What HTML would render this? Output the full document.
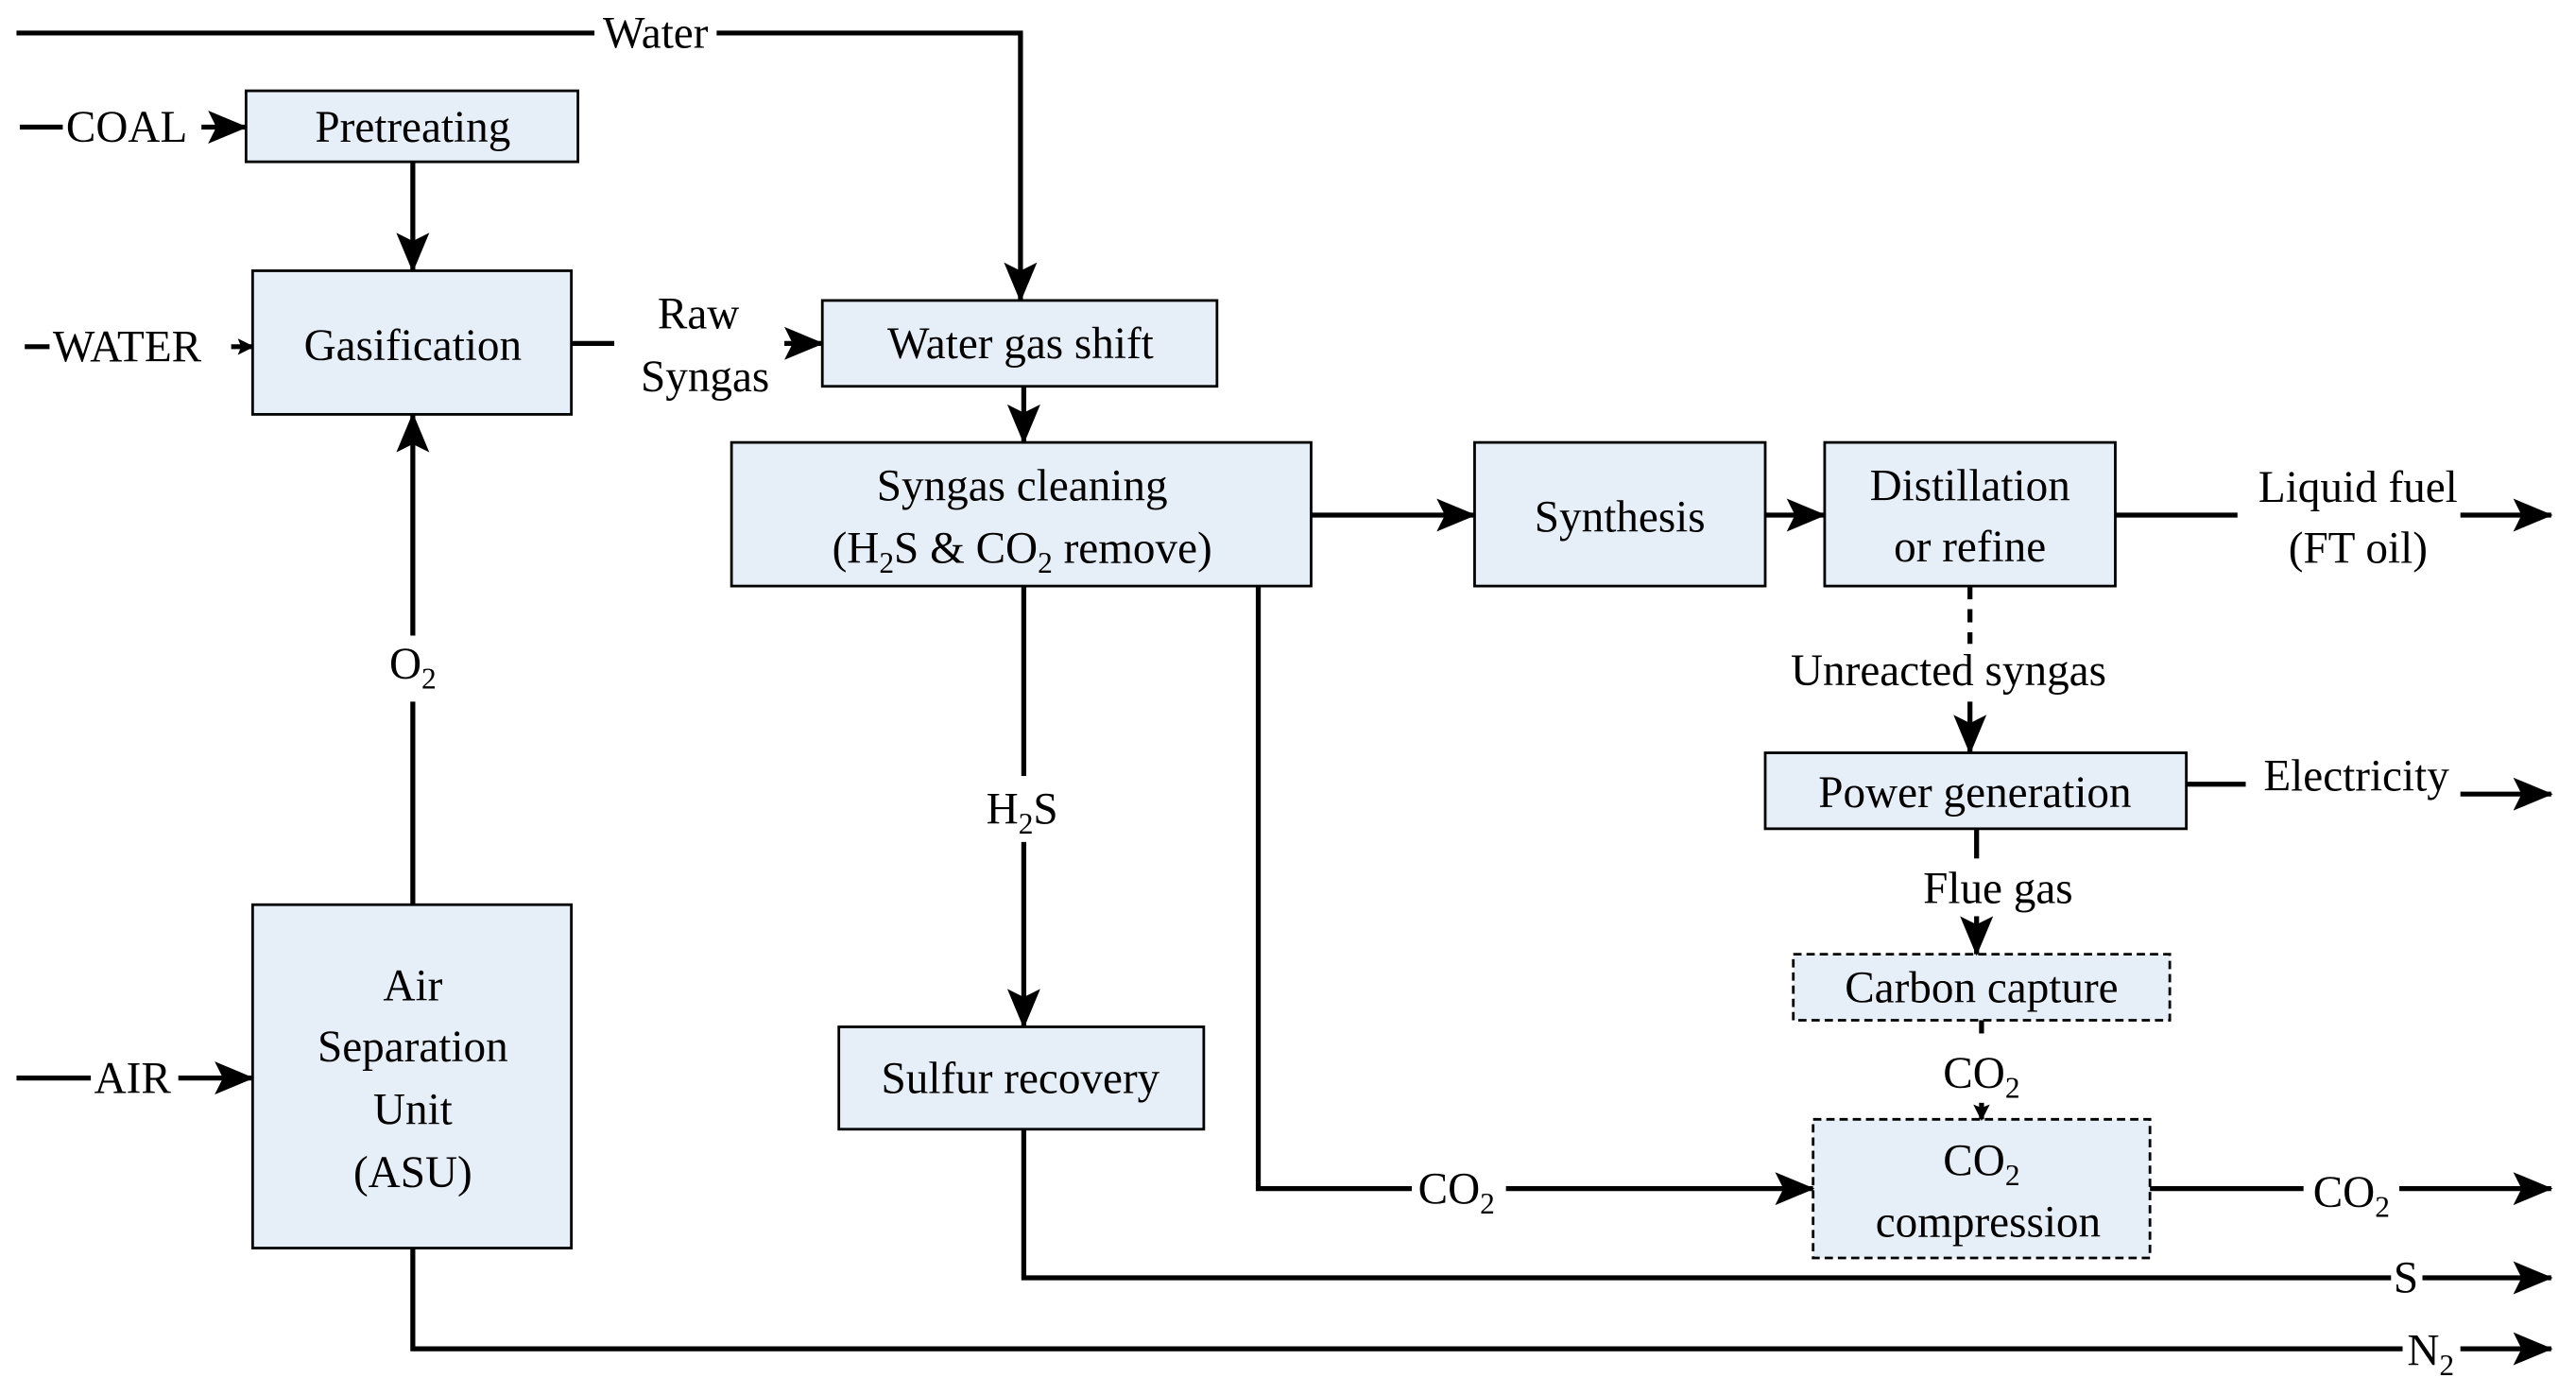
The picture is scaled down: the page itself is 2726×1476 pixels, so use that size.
<!DOCTYPE html>
<html><head><meta charset="utf-8"><style>
html,body{margin:0;padding:0;background:#fff;}
svg{display:block;font-family:"Liberation Serif","Times New Roman","DejaVu Serif",serif;}
text{font-family:"Liberation Serif","Times New Roman","DejaVu Serif",serif;font-size:27px;fill:#000;}
.b{fill:#e6eef8;stroke:#000;stroke-width:1.6;}
.d{fill:#e6eef8;stroke:#000;stroke-width:1.6;stroke-dasharray:5,3;}
.l{stroke:#000;stroke-width:3;fill:none;}
.dl{stroke:#000;stroke-width:3;fill:none;stroke-dasharray:8,6;}
</style></head><body>
<svg width="2726" height="1476" viewBox="0 0 1560 845" preserveAspectRatio="none" xmlns="http://www.w3.org/2000/svg" font-family="Liberation Serif, serif">
<defs><marker id="a" markerWidth="10" markerHeight="10" refX="9" refY="5" orient="auto" markerUnits="userSpaceOnUse" viewBox="0 0 10 10"><path d="M0,0 L10,5 L0,10 L2,5 z" fill="#000"/></marker>
<marker id="A" markerWidth="24" markerHeight="20" refX="23" refY="10" orient="auto" markerUnits="userSpaceOnUse" viewBox="0 0 24 20"><path d="M0,0 L24,10 L0,20 L5,10 z" fill="#000"/></marker></defs>

<path class="l" d="M10,20 H360 M434,20 H618 V182" marker-end="url(#A)"/>
<text x="397" y="29" text-anchor="middle">Water</text>

<rect class="b" x="149" y="55" width="201" height="43"/>
<text x="250" y="86" text-anchor="middle">Pretreating</text>
<rect class="b" x="153" y="164" width="193" height="87"/>
<text x="250" y="218" text-anchor="middle">Gasification</text>
<rect class="b" x="498" y="182" width="239" height="52"/>
<text x="618" y="217" text-anchor="middle">Water gas shift</text>
<rect class="b" x="443" y="268" width="351" height="87"/>
<text x="619" y="303" text-anchor="middle">Syngas cleaning</text>
<text x="619" y="341" text-anchor="middle">(H<tspan font-size="18" dy="6">2</tspan><tspan dy="-6">S &amp; CO</tspan><tspan font-size="18" dy="6">2</tspan><tspan dy="-6">  remove)</tspan></text>
<rect class="b" x="893" y="268" width="176" height="87"/>
<text x="981" y="322" text-anchor="middle">Synthesis</text>
<rect class="b" x="1105" y="268" width="176" height="87"/>
<text x="1193" y="303" text-anchor="middle">Distillation</text>
<text x="1193" y="340" text-anchor="middle">or refine</text>
<rect class="b" x="1069" y="456" width="255" height="46"/>
<text x="1196" y="489" text-anchor="middle">Power generation</text>
<rect class="d" x="1086" y="578" width="228" height="40"/>
<text x="1200" y="607" text-anchor="middle">Carbon capture</text>
<rect class="d" x="1098" y="678" width="204" height="84"/>
<text x="1200" y="712" text-anchor="middle">CO<tspan font-size="18" dy="6">2</tspan></text>
<text x="1204" y="749" text-anchor="middle">compression</text>
<rect class="b" x="508" y="622" width="221" height="62"/>
<text x="618" y="662" text-anchor="middle">Sulfur recovery</text>
<rect class="b" x="153" y="548" width="193" height="208"/>
<text x="250" y="606" text-anchor="middle">Air</text>
<text x="250" y="643" text-anchor="middle">Separation</text>
<text x="250" y="681" text-anchor="middle">Unit</text>
<text x="250" y="719" text-anchor="middle">(ASU)</text>

<path class="l" d="M12,77 H38"/>
<text x="40" y="86">COAL</text>
<path class="l" d="M122,77 H149" marker-end="url(#A)"/>
<path class="l" d="M15,210 H30"/>
<text x="32" y="219">WATER</text>
<path class="l" d="M140,210 H153" marker-end="url(#a)"/>
<path class="l" d="M10,653 H55"/>
<text x="57" y="662">AIR</text>
<path class="l" d="M108,653 H153" marker-end="url(#A)"/>

<path class="l" d="M250,98 V164" marker-end="url(#A)"/>
<path class="l" d="M346,208 H372"/>
<text x="423" y="199" text-anchor="middle">Raw</text>
<text x="427" y="237" text-anchor="middle">Syngas</text>
<path class="l" d="M475,208 H498" marker-end="url(#A)"/>
<path class="l" d="M620,234 V268" marker-end="url(#A)"/>
<path class="l" d="M794,312 H893" marker-end="url(#A)"/>
<path class="l" d="M1069,312 H1105" marker-end="url(#A)"/>

<path class="l" d="M1281,312 H1355"/>
<text x="1428" y="304" text-anchor="middle">Liquid fuel</text>
<text x="1428" y="341" text-anchor="middle">(FT oil)</text>
<path class="l" d="M1490,312 H1545" marker-end="url(#A)"/>

<path class="dl" d="M1193,355 V390"/>
<text x="1180" y="415" text-anchor="middle">Unreacted syngas</text>
<path class="l" d="M1193,425 V456" marker-end="url(#A)"/>

<path class="l" d="M1324,475 H1360"/>
<text x="1427" y="479" text-anchor="middle">Electricity</text>
<path class="l" d="M1490,481 H1545" marker-end="url(#A)"/>

<path class="l" d="M1197,502 V520"/>
<text x="1210" y="547" text-anchor="middle">Flue gas</text>
<path class="l" d="M1197,555 V578" marker-end="url(#A)"/>
<path class="dl" d="M1200,618 V632"/>
<text x="1200" y="659" text-anchor="middle">CO<tspan font-size="18" dy="6">2</tspan></text>
<path class="l" d="M1200,668 V678" marker-end="url(#a)"/>

<path class="l" d="M762,355 V720 H855"/>
<text x="882" y="729" text-anchor="middle">CO<tspan font-size="18" dy="6">2</tspan></text>
<path class="l" d="M912,720 H1098" marker-end="url(#A)"/>
<path class="l" d="M1302,720 H1395"/>
<text x="1424" y="731" text-anchor="middle">CO<tspan font-size="18" dy="6">2</tspan></text>
<path class="l" d="M1453,720 H1545" marker-end="url(#A)"/>

<path class="l" d="M620,355 V470"/>
<text x="619" y="499" text-anchor="middle">H<tspan font-size="18" dy="6">2</tspan><tspan dy="-6">S</tspan></text>
<path class="l" d="M620,510 V622" marker-end="url(#A)"/>

<path class="l" d="M620,684 V774 H1448"/>
<text x="1457" y="783" text-anchor="middle">S</text>
<path class="l" d="M1467,774 H1545" marker-end="url(#A)"/>

<path class="l" d="M250,756 V817 H1455"/>
<text x="1472" y="827" text-anchor="middle">N<tspan font-size="18" dy="6">2</tspan></text>
<path class="l" d="M1490,817 H1545" marker-end="url(#A)"/>

<path class="l" d="M250,548 V425"/>
<text x="250" y="411" text-anchor="middle">O<tspan font-size="18" dy="6">2</tspan></text>
<path class="l" d="M250,385 V251" marker-end="url(#A)"/>
</svg>
</body></html>
